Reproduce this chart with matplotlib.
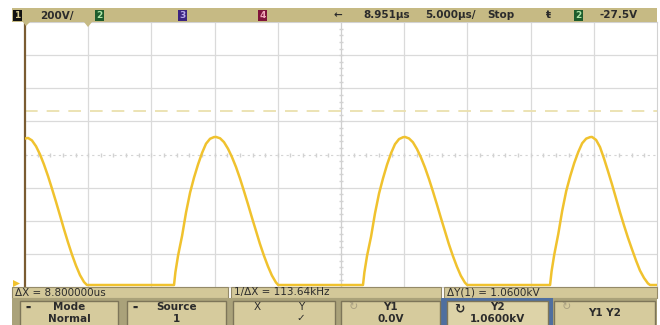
import numpy as np
import matplotlib
matplotlib.use('agg')
import matplotlib.pyplot as plt
from matplotlib.patches import Rectangle, Polygon

# Channel 1 trace: time (us from left edge of screen) and volts
t_us = [0.00, 0.24, 0.55, 0.87, 1.19, 1.50, 1.82, 2.13, 2.45, 2.77, 3.08, 3.40, 3.72, 4.03,
        4.35, 4.67, 4.90,
        11.79, 11.90, 12.11, 12.43, 12.74, 13.06, 13.37, 13.69, 14.01, 14.32, 14.64, 14.95,
        15.11, 15.43, 15.74, 16.06, 16.37, 16.69, 17.01, 17.32, 17.64, 17.95, 18.27, 18.58,
        18.90, 19.22, 19.53, 19.85, 20.03,
        26.74, 26.85, 27.06, 27.38, 27.69, 28.01, 28.32, 28.64, 28.96, 29.27, 29.59, 29.90,
        30.06, 30.38, 30.69, 31.01, 31.32, 31.64, 31.96, 32.27, 32.59, 32.90, 33.22, 33.53,
        33.85, 34.17, 34.48, 34.80, 34.98,
        41.54, 41.66, 41.87, 42.19, 42.50, 42.82, 43.13, 43.45, 43.77, 44.08, 44.40, 44.71,
        44.86, 45.18, 45.49, 45.81, 46.12, 46.44, 46.76, 47.07, 47.39, 47.70, 48.02, 48.34,
        48.65, 48.97, 49.28, 49.45, 50.00]
volts = [896, 900, 885, 850, 800, 740, 670, 595, 515, 432, 350, 270, 195, 130,
         72, 30, 12,
         12, 90, 190, 310, 450, 570, 660, 740, 810, 865, 895, 905,
         906, 898, 875, 835, 785, 725, 655, 580, 500, 420, 340, 262,
         190, 125, 70, 28, 12,
         12, 88, 188, 305, 445, 565, 655, 738, 808, 862, 893, 904,
         906, 897, 874, 833, 783, 722, 652, 578, 498, 418, 338, 260,
         188, 123, 68, 27, 12,
         12, 95, 195, 320, 460, 580, 668, 748, 815, 868, 896, 905,
         906, 888, 845, 775, 700, 620, 535, 452, 372, 298, 228, 160,
         100, 55, 22, 12, 12]

volts_per_div = 200
us_per_div = 5
y2_cursor = 1060

status_texts = [(40, '200V/', 'left'), (338, '\u2190', 'center'), (363, '8.951\u00b5s', 'left'),
                (425, '5.000\u00b5s/', 'left'), (487, 'Stop', 'left'), (548, '\u0167', 'center'),
                (600, '-27.5V', 'left')]
channel_boxes = [(13, '1', '#111111', '#d8cc90'), (95, '2', '#1d5c2c', '#b0e6a8'),
                 (178, '3', '#3b2380', '#b8a8ea'), (258, '4', '#80143a', '#f2a8b8'),
                 (574, '2', '#1d5c2c', '#b0e6a8')]
meas_texts = ['\u0394X = 8.800000us', '1/\u0394X = 113.64kHz', '\u0394Y(1) = 1.0600kV']
softkeys = [('Mode', 'Normal'), ('Source', '1'), ('X', 'Y'), ('Y1', '0.0V'),
            ('Y2', '1.0600kV'), ('Y1 Y2', '')]

ink = '#2b2b2b'
tan = '#c6ba84'
trace_col = '#f0c22e'
grid_col = '#dadada'

fig = plt.figure(figsize=(6.6, 3.25), dpi=100)
fig.patch.set_facecolor('white')

# graticule: 10 x 8 divisions
ax = fig.add_axes([25/660, 38/325, 632/660, 265/325])
ax.set_xlim(0, 10*us_per_div)
ax.set_ylim(0, 8*volts_per_div)
ax.set_xticks([])
ax.set_yticks([])
for x in np.arange(us_per_div, 10*us_per_div, us_per_div):
    if x != 5*us_per_div:
        ax.axvline(x, color=grid_col, lw=0.9, zorder=1)
for y in np.arange(volts_per_div, 8*volts_per_div, volts_per_div):
    if y != 4*volts_per_div:
        ax.axhline(y, color=grid_col, lw=0.9, zorder=1)

# center lines with minor ticks
cx, cy = 5*us_per_div, 4*volts_per_div
ax.axvline(cx, color='#cfcfcf', lw=0.9, zorder=1)
ax.axhline(cy, color='#d4d4d4', lw=0.8, ls=(0, (2, 3)), zorder=1)
ax.plot([cx]*40, np.arange(0, 8*volts_per_div, volts_per_div/5), ls='none', marker='_',
        ms=3, color='#d2d2d2', zorder=1)
ax.plot(np.arange(0, 10*us_per_div, us_per_div/5), [cy]*50, ls='none', marker='|',
        ms=3, color='#d2d2d2', zorder=1)

# Y2 cursor
ax.axhline(y2_cursor, color='#ebe0ae', lw=1.3, ls=(0, (7, 5)), zorder=2)

ax.plot(t_us, volts, color=trace_col, lw=1.8, solid_joinstyle='round', zorder=3)

for side in ['top', 'right', 'bottom']:
    ax.spines[side].set_color('#d2d2d2')
ax.spines['left'].set_color('#7a5c32')
ax.spines['left'].set_linewidth(1.6)

# status bar, measurement line and softkeys drawn in pixel space
ov = fig.add_axes([0, 0, 1, 1], zorder=5)
ov.set_xlim(0, 660)
ov.set_ylim(325, 0)
ov.axis('off')
ov.patch.set_alpha(0)

ov.add_patch(Rectangle((12, 8), 645, 14, fc=tan, ec='none'))
for x, lab, fc, tc in channel_boxes:
    ov.add_patch(Rectangle((x, 10), 9, 11, fc=fc, ec='none'))
    ov.text(x + 4.5, 15.8, lab, color=tc, fontsize=6.5, fontweight='bold',
            ha='center', va='center')
for x, lab, ha in status_texts:
    ov.text(x, 15.5, lab, color=ink, fontsize=7.5, fontweight='bold', ha=ha, va='center')

# trigger position and channel markers
ov.add_patch(Polygon([(84, 22), (92, 22), (88, 27)], fc=tan, ec='none'))
ov.add_patch(Polygon([(23, 22), (30, 22), (26, 26)], fc=tan, ec='none'))
ov.add_patch(Polygon([(13, 280), (20, 283.5), (13, 287)], fc=trace_col, ec='none'))

# measurement readouts
meas_spans = [(12, 228), (231, 441), (444, 657)]
for (x0, x1), lab in zip(meas_spans, meas_texts):
    ov.add_patch(Rectangle((x0, 287), x1 - x0, 11, fc='#d3c899', ec='#948a68', lw=0.8))
    ov.text(x0 + 3, 292.5, lab, color=ink, fontsize=7.5, ha='left', va='center')

# softkey row
ov.add_patch(Rectangle((12, 298), 645, 27, fc='#aaa27a', ec='none'))
ov.add_patch(Rectangle((441, 298), 112, 27, fc='#4f6f9f', ec='none'))
key_spans = [(20, 118), (127, 226), (233, 335), (341, 440), (447, 548), (554, 655)]
for i, ((x0, x1), (l1, l2)) in enumerate(zip(key_spans, softkeys)):
    fc = '#ddd3a8' if i == 4 else '#d6cb9d'
    ov.add_patch(Rectangle((x0, 301), x1 - x0, 26, fc=fc, ec='#7d7559', lw=1.0))
    xc = (x0 + x1) / 2
    if i == 2:
        ov.text(x0 + 24, 307, l1, color=ink, fontsize=7.5, ha='center', va='center')
        ov.text(x0 + 68, 307, l2, color=ink, fontsize=7.5, ha='center', va='center')
        ov.text(x0 + 68, 318, '\u2713', color=ink, fontsize=7.5, ha='center', va='center')
    elif l2 == '':
        ov.text(xc, 313, l1, color=ink, fontsize=7.5, fontweight='bold',
                ha='center', va='center')
    else:
        ov.text(xc, 307, l1, color=ink, fontsize=7.5, fontweight='bold',
                ha='center', va='center')
        ov.text(xc, 318.5, l2, color=ink, fontsize=7.5, fontweight='bold',
                ha='center', va='center')
    if i in (0, 1):
        ov.text(x0 + 8, 307, '\u25ac', color=ink, fontsize=4, ha='center', va='center')
    if i in (3, 5):
        ov.text(x0 + 12, 307, '\u21bb', color='#a89f80', fontsize=8, ha='center', va='center')
    if i == 4:
        ov.text(x0 + 12, 309, '\u21bb', color=ink, fontsize=9, fontweight='bold',
                ha='center', va='center')

fig.savefig('out.png', dpi=100)
